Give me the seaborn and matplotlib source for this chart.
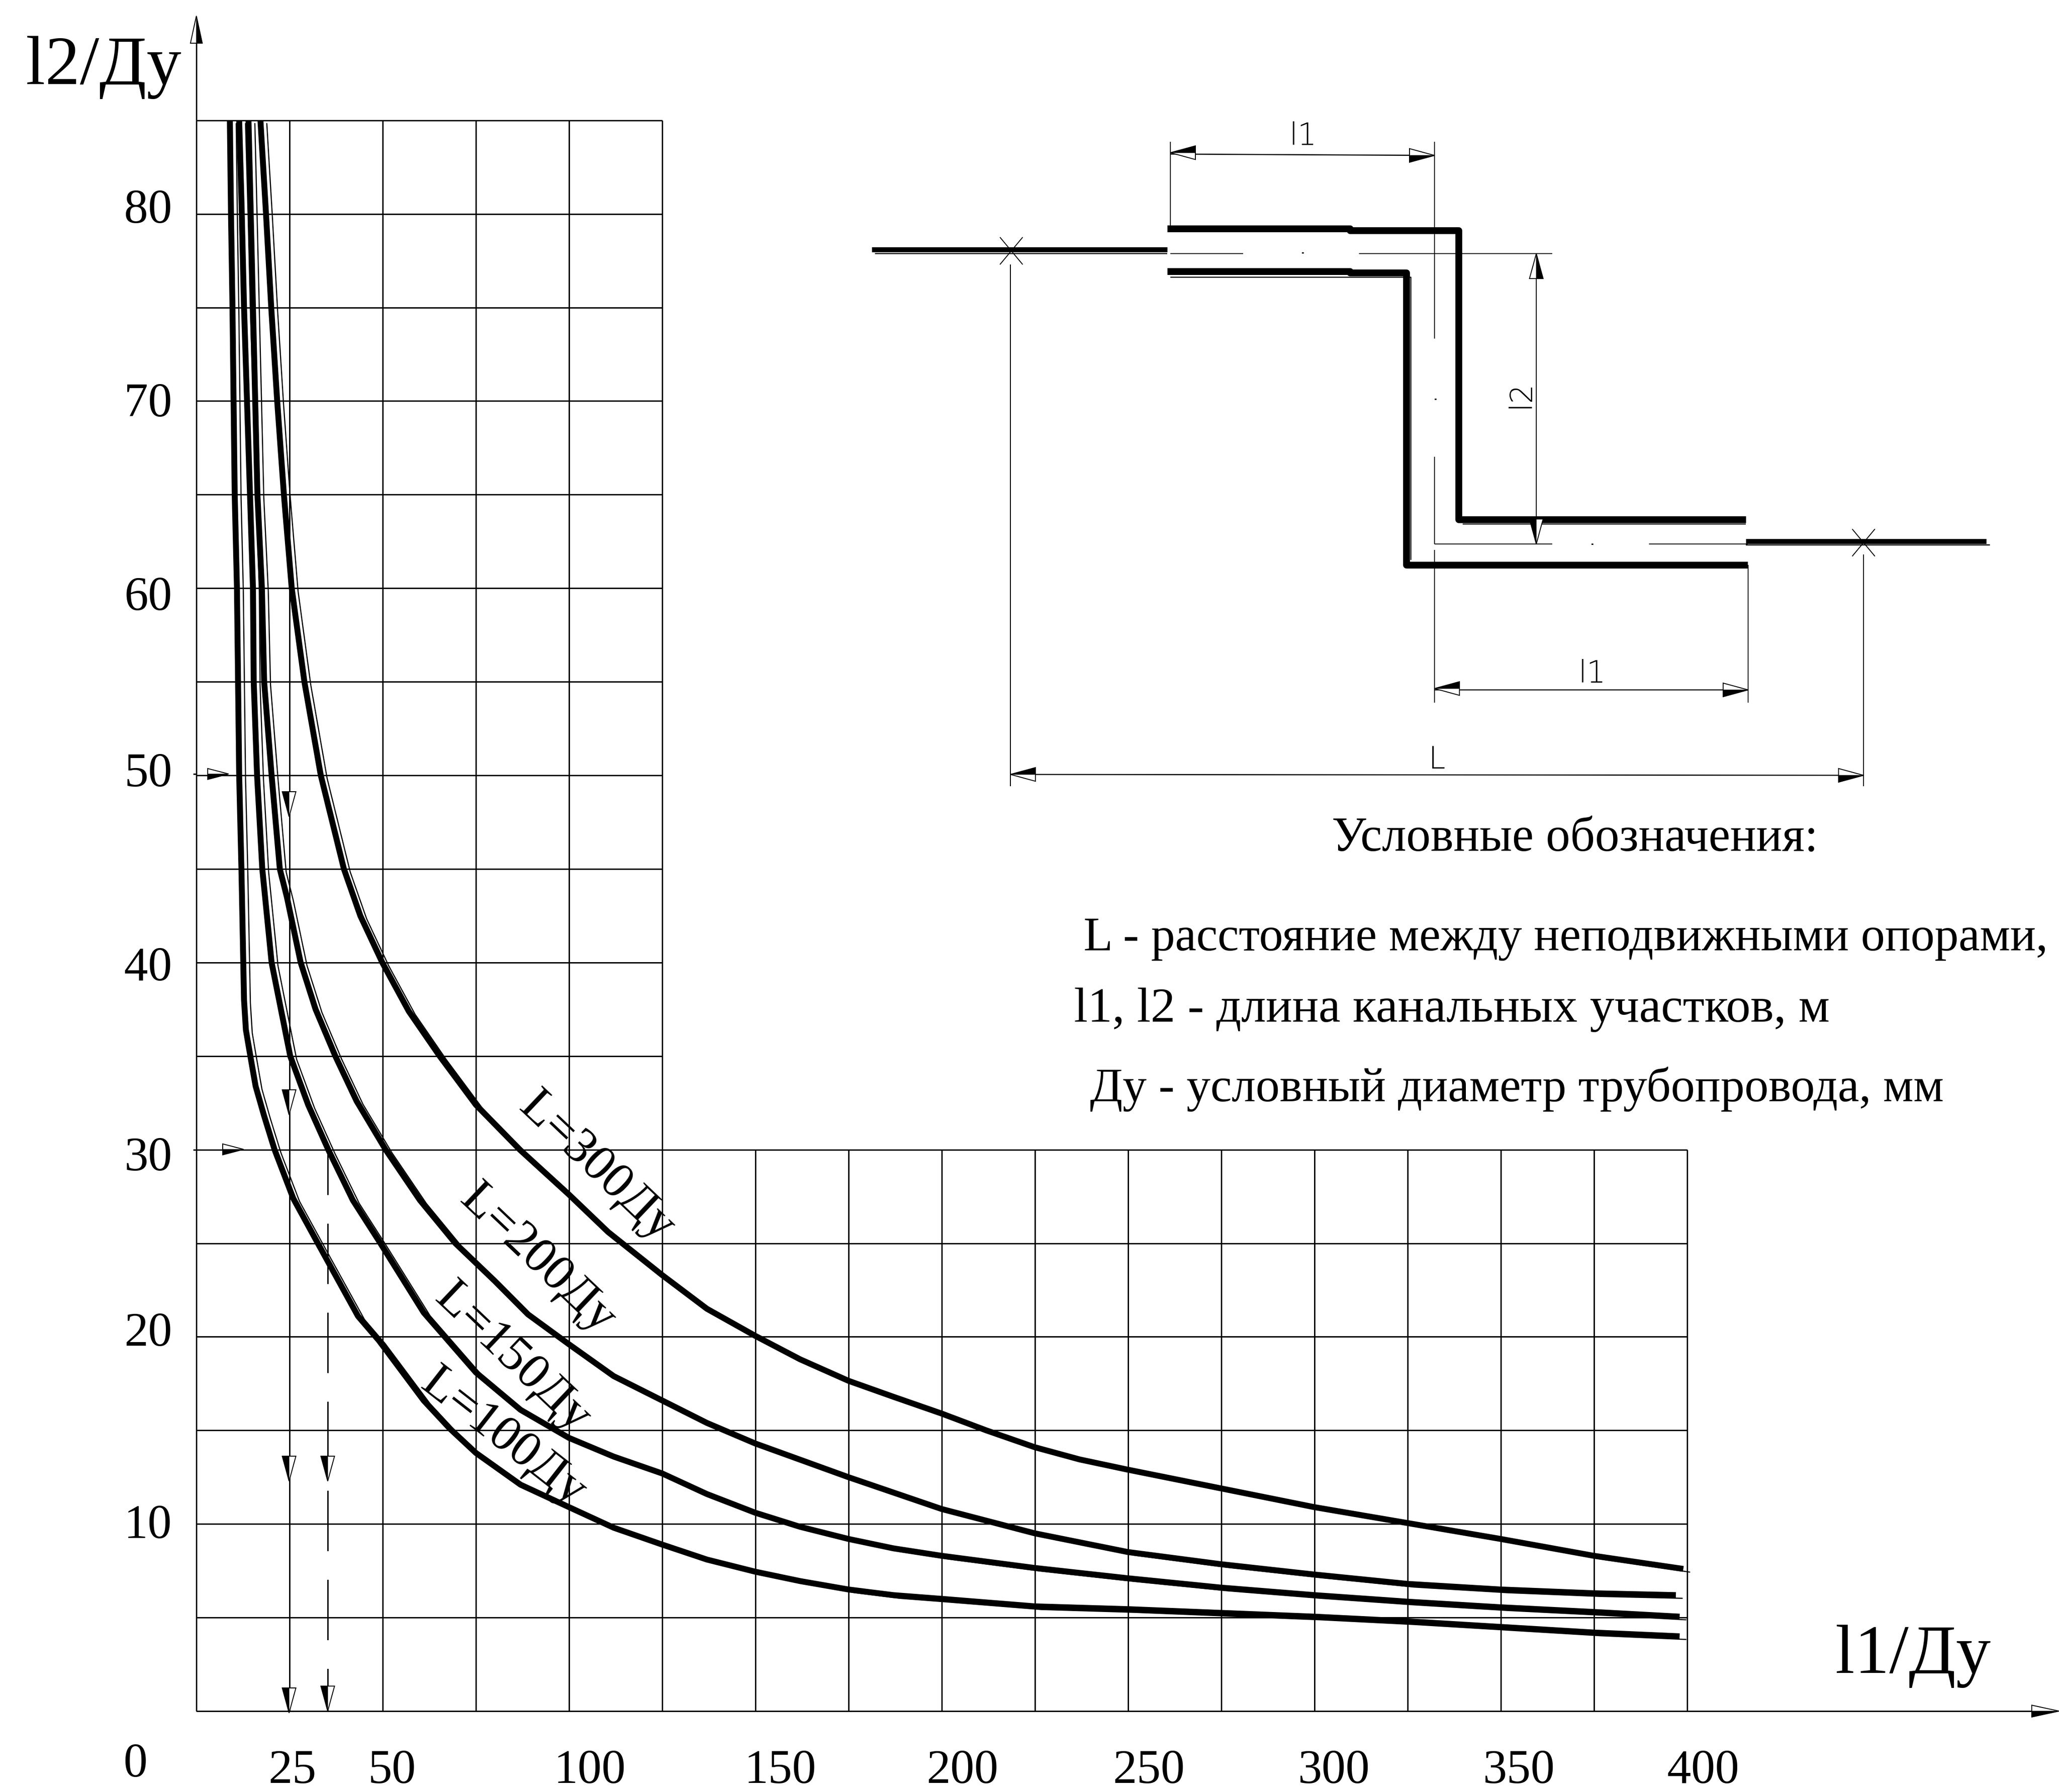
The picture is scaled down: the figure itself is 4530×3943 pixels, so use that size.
import matplotlib
matplotlib.use("Agg")
import matplotlib.pyplot as plt
import seaborn as sns
from matplotlib.transforms import ScaledTranslation

# ---- data ------------------------------------------------------------------
l100_x = [9.0, 9.3, 9.7, 10.0, 10.3, 10.9, 11.2, 11.5, 12.1, 12.6, 12.8, 13.3, 14.5, 15.9, 18.2, 21.0, 26.0, 32.6, 43.4, 49.0, 61.0, 68.0, 75.0, 87.0, 100.0, 112.0, 125.0, 137.0, 150, 162, 175, 187, 200, 225, 250, 275, 300, 325, 350, 375, 398]
l100_y = [85, 80, 75, 70, 65, 60, 55, 50, 45, 40, 38, 36.4, 35, 33.4, 31.8, 30, 27.4, 25, 21.1, 19.8, 16.6, 15.1, 13.8, 12.1, 10.9, 9.8, 8.9, 8.1, 7.45, 6.95, 6.5, 6.2, 6.0, 5.6, 5.45, 5.25, 5.05, 4.8, 4.5, 4.2, 4.0]

l150_x = [11.5, 12.2, 12.8, 13.6, 14.4, 15.2, 15.4, 16.3, 17.7, 20.2, 25.2, 30.0, 35.4, 42.0, 49.4, 61.0, 75.0, 87.0, 100.0, 112.0, 125.0, 137.0, 150, 162, 175, 187, 200, 225, 250, 275, 300, 325, 350, 375, 398]
l150_y = [85, 80, 75, 70, 65, 60, 55, 50, 45, 40, 35, 32.4, 30, 27.3, 25, 21.3, 18.1, 16.1, 14.6, 13.6, 12.7, 11.6, 10.6, 9.85, 9.2, 8.7, 8.3, 7.65, 7.1, 6.6, 6.2, 5.85, 5.55, 5.3, 5.05]

l200_x = [14.0, 14.6, 15.2, 15.8, 16.4, 17.6, 18.2, 20.2, 22.4, 24.3, 28.0, 32.0, 37.3, 43.0, 50.8, 60.0, 69.5, 80.0, 89.0, 100.0, 112.0, 125.0, 137.0, 150, 175, 200, 225, 250, 275, 300, 325, 350, 375, 397]
l200_y = [85, 80, 75, 70, 65, 60, 55, 50, 45, 43.5, 40, 37.5, 35, 32.6, 30, 27.3, 25, 23.0, 21.2, 19.6, 17.9, 16.6, 15.4, 14.3, 12.5, 10.8, 9.5, 8.5, 7.85, 7.3, 6.8, 6.5, 6.3, 6.2]

l300_x = [17.2, 18.7, 20.1, 21.7, 23.5, 25.6, 29.0, 33.4, 39.6, 44.0, 49.9, 57.0, 65.3, 75.0, 86.8, 100.0, 110.5, 125.0, 137.0, 150, 162, 175, 187, 200, 212, 225, 237, 250, 275, 300, 325, 350, 375, 399]
l300_y = [85, 80, 75, 70, 65, 60, 55, 50, 45, 42.5, 40, 37.4, 35, 32.4, 30, 27.6, 25.6, 23.3, 21.5, 20.05, 18.8, 17.65, 16.8, 15.9, 15.0, 14.1, 13.45, 12.9, 11.9, 10.9, 10.05, 9.2, 8.3, 7.6]

curve_x = [l100_x, l150_x, l200_x, l300_x]
curve_y = [l100_y, l150_y, l200_y, l300_y]

x_tick_values = [25, 50, 100, 150, 200, 250, 300, 350, 400]
x_tick_labels = ["25", "50", "100", "150", "200", "250", "300", "350", "400"]
y_tick_values = [80, 70, 60, 50, 40, 30, 20, 10]
y_tick_labels = ["80", "70", "60", "50", "40", "30", "20", "10"]

grid_h_tall = [35, 40, 45, 50, 55, 60, 65, 70, 75, 80, 85]
grid_h_wide = [0, 5, 10, 15, 20, 25, 30]
grid_v_tall = [0, 25, 50, 75, 100, 125]
grid_v_wide = [150, 175, 200, 225, 250, 275, 300, 325, 350, 375, 400]

curve_labels = ["L=300Ду", "L=200Ду", "L=150Ду", "L=100Ду"]
legend_title = "Условные обозначения:"
legend_lines = ["L - расстояние между неподвижными опорами,",
                "l1, l2 - длина канальных участков, м",
                "Ду - условный диаметр трубопровода, мм"]

# ---- layout ----------------------------------------------------------------
W, H, DPI = 4530, 3943, 100
PX = 72 / DPI
sns.set_theme(style="white")
plt.rcParams["font.family"] = ["Liberation Serif", "DejaVu Serif"]

fig = plt.figure(figsize=(W / DPI, H / DPI), dpi=DPI, facecolor="white")
ax = fig.add_axes([0, 0, 1, 1])
ax.set_xlim(-52.68, 499.8)
ax.set_ylim(-4.32, 91.43)
ax.axis("off")

grid_kw = dict(color="black", lw=3 * PX, zorder=1)
ax.hlines(grid_h_tall, 0, 125, **grid_kw)
ax.hlines(grid_h_wide, 0, 400, **grid_kw)
ax.vlines(grid_v_tall, 0, 85, **grid_kw)
ax.vlines(grid_v_wide, 0, 30, **grid_kw)

# main curves with the thin offset trace of the original drawing
shift = ScaledTranslation(14 / DPI, -7 / DPI, fig.dpi_scale_trans)
for cx, cy in zip(curve_x, curve_y):
    ax.plot(cx, cy, color="black", lw=2.5 * PX, transform=ax.transData + shift, zorder=2)
    sns.lineplot(x=cx, y=cy, ax=ax, color="black", lw=13 * PX, estimator=None, sort=False,
                 legend=False, zorder=3, solid_joinstyle="round", solid_capstyle="butt")

# tick labels (slightly displaced from their grid lines in the original)
x_off = [6, 20, 46, 55, 46, 46, 43, 40, 35]
for v, t, d in zip(x_tick_values, x_tick_labels, x_off):
    ax.annotate(t, (v, 0), xytext=(d, -133), textcoords="offset pixels",
                ha="center", va="center", fontsize=76, color="black")
y_off = [14, 0, -14, 9, -6, -12, 14, 3]
for v, t, d in zip(y_tick_values, y_tick_labels, y_off):
    ax.annotate(t, (0, v), xytext=(-106, d - 8), textcoords="offset pixels",
                ha="center", va="center", fontsize=76, color="black")

# overlay in pixel coordinates of the sheet: axes extensions, arrows, sketch, text
ov = fig.add_axes([0, 0, 1, 1], facecolor="none")
ov.set_xlim(0, W)
ov.set_ylim(H, 0)
ov.axis("off")


def seg(xs, ys, lw=3, **kw):
    ov.plot(xs, ys, color="black", lw=lw * PX, solid_capstyle="butt", **kw)


def arrow(tx, ty, dx, dy, length=55, half=15):
    bx, by = tx - dx * length, ty - dy * length
    nx, ny = -dy * half, dx * half
    ov.fill([tx, bx + nx, bx - nx], [ty, by + ny, by - ny], fc="white", ec="black", lw=2 * PX, zorder=5)
    ov.fill([tx, bx + nx, bx], [ty, by + ny, by], fc="black", ec="black", lw=1 * PX, zorder=6)


# axes extensions
seg([432, 432], [45, 265])
seg([432, 4520], [3765, 3765])
arrow(432, 35, 0, -1, 60, 13)
arrow(4530, 3765, 1, 0, 60, 13)
seg([425, 432], [1703, 1703])
seg([425, 432], [2530, 2530])

# guide lines with arrows
ov.plot([721, 721], [2539, 3765], color="black", lw=3 * PX, linestyle=(14.3, (44.3, 21)))
for ty in [1797, 2453, 3259, 3769]:
    arrow(636, ty, 0, 1)
for ty in [3259, 3765]:
    arrow(721, ty, 0, 1)
arrow(503, 1703, 1, 0, 46, 12)
arrow(536, 2529, 1, 0, 46, 12)

# sketch: pipe
seg([1918, 2568], [549, 549], lw=11)
seg([1925, 2568], [558, 558], lw=2.5)
seg([3841, 4370], [1191, 1191], lw=11)
seg([3841, 4378], [1199, 1199], lw=2.5)
seg([2568, 2970, 2970, 3209, 3209, 3841], [503, 503, 507, 507, 1143, 1143], lw=15)
seg([3218, 3841], [1153, 1153], lw=2.5)
seg([2568, 2970, 2970, 3094, 3094, 3845], [597, 597, 600, 600, 1243, 1243], lw=15)
seg([2575, 3104, 3104], [610, 610, 1232], lw=2.5)
# centre lines
seg([2575, 2735], [558, 558], lw=2)
seg([2990, 3415], [558, 558], lw=2)
seg([3156, 3156], [312, 745], lw=2)
seg([3156, 3156], [1005, 1197], lw=2)
seg([3156, 3415], [1197, 1197], lw=2)
seg([3628, 3845], [1197, 1197], lw=2)
seg([3156, 3156], [1210, 1546], lw=2)
for dot in [(2864, 556), (3156, 878), (3501, 1197)]:
    seg([dot[0], dot[0] + 4], [dot[1], dot[1]], lw=3)
# dimensions
seg([2575, 2575], [312, 503], lw=2)
seg([2575, 3156], [339, 342], lw=2.5)
arrow(2575, 336, -1, 0)
arrow(3156, 342, 1, 0)
seg([3380, 3380], [558, 1197], lw=2)
arrow(3380, 558, 0, -1)
arrow(3380, 1197, 0, 1)
seg([3846, 3846], [1243, 1546], lw=2)
seg([3156, 3846], [1518, 1518], lw=2.5)
arrow(3156, 1515, -1, 0)
arrow(3846, 1518, 1, 0)
seg([2223, 2223], [582, 1730], lw=2)
seg([4100, 4100], [1220, 1730], lw=2)
seg([2223, 4100], [1704, 1706], lw=2.5)
arrow(2223, 1704, -1, 0)
arrow(4100, 1706, 1, 0)
# fixed supports
for px, py in [(2225, 552), (4100, 1194)]:
    seg([px - 25, px + 25], [py - 30, py + 30], lw=2)
    seg([px - 25, px + 25], [py + 30, py - 30], lw=2)

thin = dict(family=["DejaVu Sans"], fontweight="ultralight", color="black", ha="center", va="center")
ov.text(2867, 300, "l1", fontsize=48, **thin)
ov.text(3503, 1483, "l1", fontsize=48, **thin)
ov.text(3161, 1672, "L", fontsize=48, **thin)
ov.text(3345, 868, "l2", fontsize=48, rotation=90, **thin)

# curve labels
for t, (cx_, cy_), rot in zip(curve_labels,
                              [(1312, 2568), (1182, 2771), (1127, 2988), (1107, 3164)],
                              [-43.5, -43.5, -43.5, -38]):
    ov.text(cx_, cy_, t, fontsize=80, rotation=rot, ha="center", va="center",
            rotation_mode="anchor", color="black")

# axis titles
ov.text(228, 148, "l2/Ду", fontsize=110, ha="center", va="center", color="black")
ov.text(4209, 3644, "l1/Ду", fontsize=110, ha="center", va="center", color="black")
ov.text(298, 3884, "0", fontsize=76, ha="center", va="center", color="black")

# legend text
ov.text(2930, 1846, legend_title, fontsize=77, ha="left", va="center", color="black")
for t, px, py, fs in zip(legend_lines, [2384, 2363, 2398], [2066, 2222, 2396], [76, 78, 76]):
    ov.text(px, py, t, fontsize=fs, ha="left", va="center", color="black")

fig.savefig("out.png", dpi=DPI, facecolor="white")
